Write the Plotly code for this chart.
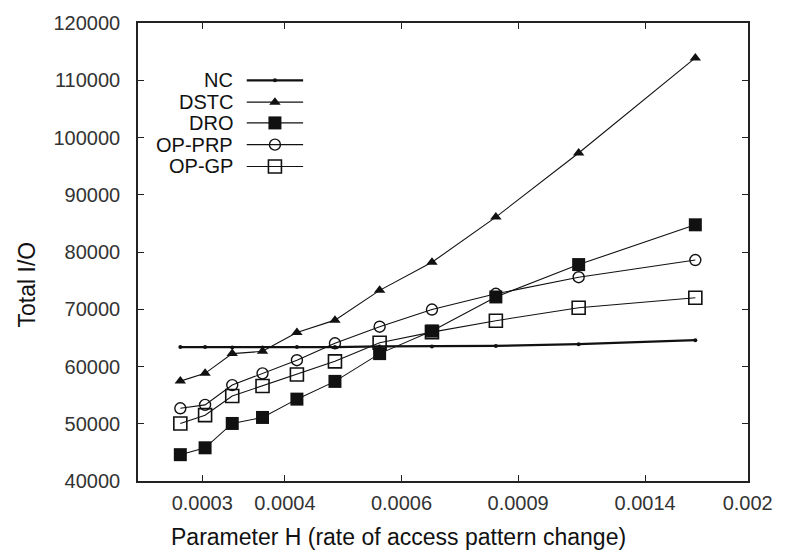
import plotly.graph_objects as go

# Parameter H values (rate of access pattern change)
h_values = [0.000278, 0.000303, 0.000333, 0.000370, 0.000417, 0.000476,
            0.000556, 0.000667, 0.000833, 0.001111, 0.001667]

# Total I/O per method
nc =     [63400, 63400, 63300, 63300, 63400, 63400, 63500, 63500, 63600, 63900, 64600]
dstc =   [57450, 58800, 62250, 62650, 65950, 68100, 73300, 78200, 86100, 97300, 113900]
dro =    [44600, 45800, 50050, 51100, 54300, 57400, 62250, 66200, 72150, 77800, 84750]
op_prp = [52700, 53300, 56750, 58800, 61100, 64050, 66950, 69950, 72700, 75600, 78600]
op_gp =  [50050, 51500, 54850, 56600, 58600, 60900, 64150, 66000, 68000, 70250, 72000]

x_tickvals = [0.0003, 0.0004, 0.0006, 0.0009, 0.0014, 0.002]
x_ticktext = ["0.0003", "0.0004", "0.0006", "0.0009", "0.0014", "0.002"]

FONT = "Liberation Sans, Arial, sans-serif"
FS = 20
TITLE_FS = 23
INK = "#111111"

series = [
    ("NC", nc, dict(symbol="circle", size=4, color=INK), 2.2),
    ("DSTC", dstc, dict(symbol="triangle-up", size=10, color=INK), 1.1),
    ("DRO", dro, dict(symbol="square", size=13, color=INK), 1.1),
    ("OP-PRP", op_prp, dict(symbol="circle-open", size=11, color=INK, line=dict(width=1.4, color=INK)), 1.1),
    ("OP-GP", op_gp, dict(symbol="square-open", size=13, color=INK, line=dict(width=1.6, color=INK)), 1.1),
]

fig = go.Figure()
for name, vals, marker, lw in series:
    fig.add_trace(go.Scatter(
        x=h_values, y=vals, name=name, mode="lines+markers",
        line=dict(color=INK, width=lw), marker=marker, showlegend=False,
    ))

# Key drawn in plot-pixel coordinates on an overlay axis pair
PW, PH = 617, 463
row_y = [405, 383, 362, 340, 318]
for (name, vals, marker, lw), ry in zip(series, row_y):
    fig.add_trace(go.Scatter(
        x=[110, 167], y=[ry, ry], mode="lines", xaxis="x2", yaxis="y2",
        line=dict(color=INK, width=lw), showlegend=False, hoverinfo="skip",
    ))
    fig.add_trace(go.Scatter(
        x=[138.5], y=[ry], mode="markers", xaxis="x2", yaxis="y2",
        marker=marker, showlegend=False, hoverinfo="skip",
    ))
    fig.add_annotation(
        x=98, y=ry, xref="x2", yref="y2", text=name, showarrow=False,
        xanchor="right", yanchor="middle", font=dict(family=FONT, size=FS, color=INK),
    )

axis_common = dict(
    showline=True, linecolor="#222222", linewidth=1.6, mirror="ticks",
    ticks="inside", ticklen=6, tickwidth=1.2, tickcolor="#222222",
    showgrid=False, zeroline=False,
    tickfont=dict(family=FONT, size=FS, color="#333333"),
)

fig.update_layout(
    width=785, height=552,
    margin=dict(l=138, r=30, t=18, b=71),
    paper_bgcolor="white", plot_bgcolor="white",
    xaxis=dict(
        type="log", range=[-3.6199, -2.6985],
        tickvals=x_tickvals, ticktext=x_ticktext, ticklabelstandoff=3,
        **axis_common,
    ),
    yaxis=dict(
        range=[40000, 120000], dtick=10000, tickformat="d", ticklabelstandoff=12,
        **axis_common,
    ),
    xaxis2=dict(overlaying="x", anchor="y2", range=[0, PW], visible=False),
    yaxis2=dict(overlaying="y", anchor="x2", range=[0, PH], visible=False),
)

fig.add_annotation(
    x=(401 - 138) / PW, y=-(538 - 481) / PH, xref="paper", yref="paper",
    text="Parameter H (rate of access pattern change)", showarrow=False,
    xanchor="center", yanchor="middle",
    font=dict(family=FONT, size=TITLE_FS, color=INK),
)
fig.add_annotation(
    x=-(138 - 26) / PW, y=(481 - 282) / PH, xref="paper", yref="paper", text="Total I/O",
    showarrow=False, textangle=-90, xanchor="center", yanchor="middle",
    font=dict(family=FONT, size=TITLE_FS, color=INK),
)

fig.write_html("out.html")
